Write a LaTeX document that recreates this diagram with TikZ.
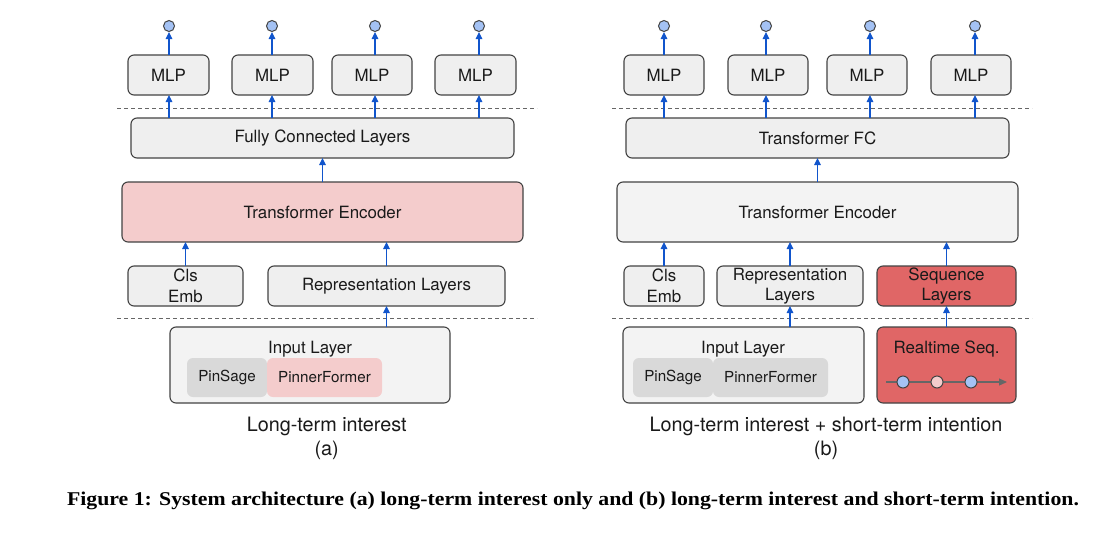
\documentclass[tikz,border=0pt]{standalone}
\usepackage{fontspec}
\setmainfont{TeX Gyre Heros}
\newfontfamily\capfont{Liberation Serif}
\usetikzlibrary{arrows.meta}
\definecolor{bfill}{HTML}{EFEFEF}
\definecolor{tfill}{HTML}{F3F3F3}
\definecolor{bord}{HTML}{434343}
\definecolor{pinkf}{HTML}{F4CCCC}
\definecolor{redf}{HTML}{E06666}
\definecolor{grayf}{HTML}{D9D9D9}
\definecolor{bluef}{HTML}{A4C2F4}
\definecolor{arrblue}{HTML}{1155CC}
\definecolor{dashc}{HTML}{666666}
\definecolor{txt}{HTML}{1A1A1A}
\newcommand\fsbox{\fontsize{16.9}{20.5}\selectfont}
\newcommand\fsin{\fontsize{15.2}{18}\selectfont}
\newcommand\fslab{\fontsize{19.8}{23}\selectfont}
\tikzset{
  box/.style={draw=bord, line width=1.1pt, rounded corners=6pt, fill=bfill,
    inner sep=0pt, outer sep=0pt, font=\fsbox, text=txt, align=center, minimum height=40},
  inbox/.style={rounded corners=6pt, inner sep=0pt, outer sep=0pt, font=\fsin,
    text=txt, minimum height=39},
  outc/.style={circle, draw=bord, line width=1pt, fill=bluef, minimum size=11, inner sep=0pt},
  seqdot/.style={circle, draw=bord, line width=1pt, minimum size=12, inner sep=0pt},
  arr/.style={draw=arrblue, line width=1.2pt, -{Triangle[length=7pt,width=6.5pt]}},
  sarr/.style={draw=dashc, line width=1.2pt, -{Triangle[length=8pt,width=7pt]}},
  sep/.style={draw=dashc, line width=0.9pt, dash pattern=on 4pt off 3pt},
  lab/.style={font=\fslab, text=txt, inner sep=0pt},
  plain/.style={font=\fsbox, text=txt, inner sep=0pt},
}
\begin{document}
\begin{tikzpicture}[x=1pt,y=-1pt]
\useasboundingbox[fill=white] (0,0) rectangle (1116,536);

% ================= (a) =================
\draw[sep] (117,108) -- (537,108);
\draw[sep] (117,318) -- (537,318);

\node[box, minimum width=81] (mlpA1) at (168.5,75) {MLP};
\node[box, minimum width=81] (mlpA2) at (272.5,75) {MLP};
\node[box, minimum width=80] (mlpA3) at (372,75) {MLP};
\node[box, minimum width=81] (mlpA4) at (475.5,75) {MLP};
\node[outc] (oA1) at (169,26) {};
\node[outc] (oA2) at (272,26) {};
\node[outc] (oA3) at (375,26) {};
\node[outc] (oA4) at (479,26) {};

\node[box, minimum width=383] (fcA) at (322.5,138) {Fully Connected Layers};
\node[box, fill=pinkf, minimum width=401, minimum height=60] (teA) at (322.5,212) {Transformer Encoder};
\node[box, minimum width=115] (clsA) at (185.5,286) {Cls\\Emb};
\node[box, minimum width=237] (repA) at (386.5,286) {Representation Layers};
\node[box, fill=tfill, minimum width=280, minimum height=76] (inA) at (310,365) {};
\node[plain] (inAl) at (310,349) {Input Layer};
\node[inbox, fill=grayf, minimum width=80] (psA) at (227,377.5) {PinSage};
\node[inbox, fill=pinkf, minimum width=115] (pfA) at (324.5,377.5) {PinnerFormer};

\foreach \i in {1,2,3,4}{
  \draw[arr] (mlpA\i.north -| oA\i) -- (oA\i);
  \draw[arr] (fcA.north -| oA\i) -- (mlpA\i.south -| oA\i);
}
\draw[arr] (teA) -- (fcA);
\draw[arr] (clsA) -- (clsA |- teA.south);
\draw[arr] (repA) -- (repA |- teA.south);
\draw[arr] (inA.north -| repA) -- (repA);

\node[lab] (capA) at (326.7,426) {Long-term interest};
\node[lab] (capAb) at (326.7,450) {(a)};

% ================= (b) =================
\draw[sep] (612,108) -- (1032,108);
\draw[sep] (612,318) -- (1032,318);

\node[box, minimum width=80] (mlpB1) at (664,75) {MLP};
\node[box, minimum width=80] (mlpB2) at (768,75) {MLP};
\node[box, minimum width=80] (mlpB3) at (867,75) {MLP};
\node[box, minimum width=80] (mlpB4) at (971,75) {MLP};
\node[outc] (oB1) at (664,26) {};
\node[outc] (oB2) at (766,26) {};
\node[outc] (oB3) at (870,26) {};
\node[outc] (oB4) at (975,26) {};

\node[box, minimum width=383] (fcB) at (817.5,138) {Transformer FC};
\node[box, fill=tfill, minimum width=401, minimum height=60] (teB) at (817.5,212) {Transformer Encoder};
\node[box, minimum width=80] (clsB) at (664,286) {Cls\\Emb};
\node[box, minimum width=146] (repB) at (790,286) {Representation\\Layers};
\node[box, fill=redf, minimum width=139] (seqB) at (946.5,286) {Sequence\\Layers};
\node[box, fill=tfill, minimum width=241, minimum height=76] (inB) at (743.5,365) {};
\node[plain] (inBl) at (743,349) {Input Layer};
\node[inbox, fill=grayf, minimum width=80] (psB) at (673,377.5) {PinSage};
\node[inbox, fill=grayf, minimum width=115] (pfB) at (770.5,377.5) {PinnerFormer};
\node[box, fill=redf, minimum width=139, minimum height=76] (rtB) at (946.5,365) {};
\node[plain] (rtBl) at (946.5,349) {Realtime Seq.};
\coordinate (sq0) at (886,382);
\coordinate (sq1) at (1007,382);
\draw[sarr] (sq0) -- (sq1);
\node[seqdot, fill=bluef] (d1) at (903,382) {};
\node[seqdot, fill=pinkf] (d2) at (937,382) {};
\node[seqdot, fill=bluef] (d3) at (971,382) {};

\foreach \i in {1,2,3,4}{
  \draw[arr] (mlpB\i.north -| oB\i) -- (oB\i);
  \draw[arr] (fcB.north -| oB\i) -- (mlpB\i.south -| oB\i);
}
\draw[arr] (teB) -- (fcB);
\draw[arr] (clsB) -- (clsB |- teB.south);
\draw[arr] (repB) -- (repB |- teB.south);
\draw[arr] (seqB) -- (seqB |- teB.south);
\draw[arr] (inB.north -| repB) -- (repB);
\draw[arr] (rtB) -- (seqB);

\node[lab] (capB) at (826,426) {Long-term interest + short-term intention};
\node[lab] (capBb) at (826,450) {(b)};

% ================= caption =================
\node[inner sep=0pt, text=black] (fig) at (573,501)
  {\scalebox{1.117}[1]{\capfont\bfseries\fontsize{19.5}{22}\selectfont Figure 1: System architecture (a) long-term interest only and (b) long-term interest and short-term intention.}};
\end{tikzpicture}
\end{document}
